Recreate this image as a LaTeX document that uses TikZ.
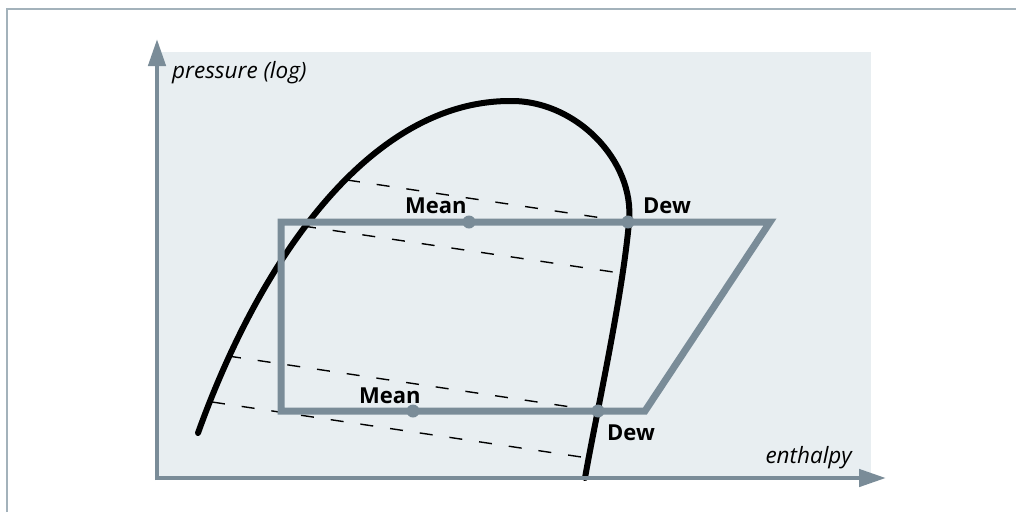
\documentclass[tikz,border=0pt]{standalone}
\usepackage{fontspec}
\setmainfont{Open Sans}
\usetikzlibrary{arrows.meta}
\definecolor{axisgray}{HTML}{7A8C98}
\definecolor{panel}{HTML}{E8EEF1}
\definecolor{framegray}{HTML}{A3B2BB}
\tikzset{
  axis/.style={draw=axisgray, line width=4.5pt, -{Triangle[length=27pt,width=17pt]}},
  cycle/.style={draw=axisgray, line width=7pt, line join=miter},
  dome/.style={draw=black, line width=6pt, line cap=round},
  tie/.style={draw=black, line width=1.4pt, dash pattern=on 13pt off 17pt},
  dot/.style={circle, fill=axisgray, minimum size=13pt, inner sep=0pt},
  lbl/.style={font=\fontsize{22}{26}\selectfont\bfseries, anchor=base west, inner sep=0pt},
  axlbl/.style={font=\fontsize{22.5}{27}\selectfont\itshape, inner sep=0pt}
}
\begin{document}
\begin{tikzpicture}[x=1pt,y=-1pt]
\useasboundingbox (0,0) rectangle (1016,512);
\fill[white] (0,0) rectangle (1016,512);
% frame
\draw[framegray, line width=1.5pt] (7,512) -- (7,9) -- (1016,9);
% panel
\fill[panel] (157,52) rectangle (871,478);
% dashed tie lines
\draw[tie] (347,180) -- (609,219);
\draw[tie] (303,226) -- (620,273);
\draw[tie] (228,356) -- (598,411);
\draw[tie] (212,402) -- (588,458);
% dome
\draw[dome] (198,433) .. controls (260,260) and (370,101) .. (510,101)
  .. controls (575,100) and (635,160) .. (629,222)
  .. controls (622,300) and (595,420) .. (585,478);
% cycle
\draw[cycle] (281,222) -- (770,222) -- (645,411) -- (281,411) -- cycle;
% dots
\node[dot] (m1) at (469,222) {};
\node[dot] (d1) at (628,222) {};
\node[dot] (m2) at (413,411) {};
\node[dot] (d2) at (598,411) {};
% labels
\node[lbl] (lm1) at (405,213) {Mean};
\node[lbl] (ld1) at (643,213) {Dew};
\node[lbl] (lm2) at (359,403) {Mean};
\node[lbl] (ld2) at (607,440) {Dew};
% axes
\coordinate (o1) at (157,480);
\coordinate (yt) at (157,39);
\coordinate (o2) at (155,478);
\coordinate (xt) at (886,478);
\draw[axis] (o1) -- (yt);
\draw[axis] (o2) -- (xt);
\node[axlbl, anchor=base west] (py) at (172,78) {pressure (log)};
\node[axlbl, anchor=base east] (hx) at (852,463) {enthalpy};
\end{tikzpicture}
\end{document}
